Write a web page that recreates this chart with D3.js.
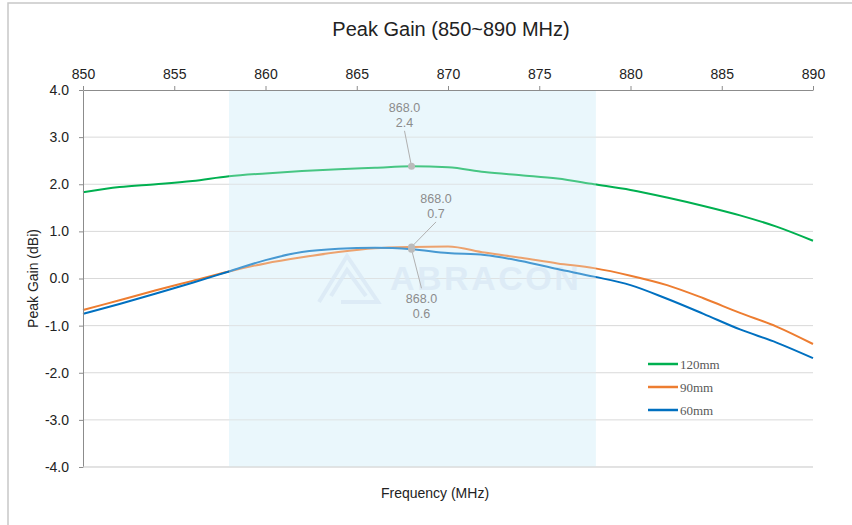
<!DOCTYPE html>
<html>
<head>
<meta charset="utf-8"/>
<script src="https://cdn.jsdelivr.net/npm/d3@7"></script>
<style>
body { margin: 0; background: #fff; }
text { font-family: Arial, "Liberation Sans", sans-serif; }
.grid line { stroke: #d9d9d9; stroke-width: 1; }
.axis path, .axis line { stroke: #8c8c8c; }
.axis text { font-size: 14px; fill: #222; }
.note { font-size: 12.5px; fill: #8c8c8c; }
.legend text { font-family: "Liberation Serif", "Times New Roman", serif; font-size: 13px; fill: #595959; }
</style>
</head>
<body>
<svg id="chart" width="852" height="525"></svg>
<script>
// frequency points (MHz) and peak gain (dBi) per cable length
var freq = [850,852,854,856,858,860,862,864,866,868,870,872,874,876,878,880,882,884,886,888,890];
var gain120 = [1.83,1.94,2.00,2.07,2.17,2.23,2.28,2.32,2.35,2.38,2.36,2.26,2.19,2.12,2.00,1.88,1.72,1.54,1.34,1.10,0.80];
var gain90  = [-0.67,-0.46,-0.25,-0.05,0.15,0.32,0.45,0.56,0.64,0.67,0.68,0.55,0.44,0.32,0.22,0.06,-0.14,-0.42,-0.73,-1.02,-1.39];
var gain60  = [-0.75,-0.54,-0.32,-0.09,0.15,0.39,0.56,0.63,0.65,0.62,0.54,0.50,0.37,0.20,0.04,-0.14,-0.43,-0.75,-1.08,-1.36,-1.69];

var seriesNames = ["120mm", "90mm", "60mm"];
var seriesColors = ["#00b050", "#ed7d31", "#0070c0"];
var band = [858, 878.1];
var xTicks = [850,855,860,865,870,875,880,885,890];
var yTicks = [4,3,2,1,0,-1,-2,-3,-4];
var markFreq = 868;

var svg = d3.select("#chart");
var W = 852, H = 525;
var margin = {left: 83, right: 39, top: 90, bottom: 58};

var x = d3.scaleLinear().domain([850, 890]).range([margin.left, W - margin.right]);
var y = d3.scaleLinear().domain([-4, 4]).range([H - margin.bottom, margin.top]);

// outer frame (top and left only)
svg.append("path")
    .attr("d", "M8," + H + "V3H" + W)
    .attr("fill", "none")
    .attr("stroke", "#c8c8c8")
    .attr("stroke-width", 1.5);

svg.append("text")
    .attr("x", 451).attr("y", 36)
    .attr("text-anchor", "middle")
    .style("font-size", "20px").style("fill", "#222")
    .text("Peak Gain (850~890 MHz)");

// highlighted band
svg.append("rect")
    .attr("x", x(band[0])).attr("y", y(4))
    .attr("width", x(band[1]) - x(band[0]))
    .attr("height", y(-4) - y(4))
    .attr("fill", "#eaf7fd");

svg.append("g").attr("class", "grid")
  .selectAll("line")
  .data(yTicks.slice(1))
  .enter().append("line")
    .attr("x1", x(850)).attr("x2", x(890))
    .attr("y1", function(d) { return y(d); })
    .attr("y2", function(d) { return y(d); });

// watermark
var wm = svg.append("g").attr("opacity", 0.8);
wm.append("path")
    .attr("d", "M319,302L347,256L378,302L341,302M331,296L347,270L366,296")
    .attr("fill", "none").attr("stroke", "#d3e3f2").attr("stroke-width", 4);
wm.append("text")
    .attr("x", 390).attr("y", 290)
    .style("font-size", "34px").style("font-weight", "bold")
    .style("fill", "#d3e3f2").style("letter-spacing", "2.5px")
    .text("ABRACON");

var series = [gain120, gain90, gain60];
var line = d3.line()
    .x(function(d, i) { return x(freq[i]); })
    .y(function(d) { return y(d); })
    .curve(d3.curveMonotoneX);

svg.append("g").selectAll("path")
  .data(series)
  .enter().append("path")
    .attr("fill", "none")
    .attr("stroke", function(d, i) { return seriesColors[i]; })
    .attr("stroke-width", 2)
    .attr("d", line);

// band overlay softens the lines inside it
svg.append("rect")
    .attr("x", x(band[0])).attr("y", y(4))
    .attr("width", x(band[1]) - x(band[0]))
    .attr("height", y(-4) - y(4))
    .attr("fill", "#eaf7fd").attr("opacity", 0.3);

// axes
svg.append("g").attr("class", "axis")
    .attr("transform", "translate(0," + y(4) + ")")
    .call(d3.axisTop(x).tickValues(xTicks).tickSize(4).tickSizeOuter(0).tickFormat(d3.format("d")))
    .call(function(g) { g.selectAll("text").attr("dy", "-0.3em"); });

svg.append("g").attr("class", "axis")
    .attr("transform", "translate(" + x(850) + ",0)")
    .call(d3.axisLeft(y).tickValues(yTicks).tickSize(4).tickSizeOuter(0)
      .tickFormat(function(d) { return d.toFixed(1); }))
    .call(function(g) { g.selectAll("text").attr("dx", "-0.5em"); });

svg.append("line")
    .attr("x1", x(850)).attr("x2", x(890))
    .attr("y1", y(-4)).attr("y2", y(-4))
    .attr("stroke", "#d9d9d9");

svg.append("text")
    .attr("x", 435).attr("y", 498)
    .attr("text-anchor", "middle")
    .style("font-size", "14px").style("fill", "#222")
    .text("Frequency (MHz)");

svg.append("text")
    .attr("transform", "translate(38," + y(0) + ") rotate(-90)")
    .attr("text-anchor", "middle")
    .style("font-size", "14px").style("fill", "#222")
    .text("Peak Gain (dBi)");

// data labels at 868 MHz
var mi = freq.indexOf(markFreq);
var notes = [
  {v: gain120[mi], dx: -7, dy: -54.5},
  {v: gain90[mi],  dx: 24.5, dy: -44},
  {v: gain60[mi],  dx: 10, dy: 54}
];
var ng = svg.append("g");
notes.forEach(function(n) {
  var px = x(markFreq), py = y(n.v);
  var tx = px + n.dx, ty = py + n.dy;
  var above = n.dy < 0;
  ng.append("line")
      .attr("x1", px).attr("y1", py)
      .attr("x2", tx).attr("y2", above ? ty + 19 : ty - 15)
      .attr("stroke", "#b0b0b0");
  ng.append("circle").attr("cx", px).attr("cy", py).attr("r", 3.5).attr("fill", "#bbbbbb");
  ng.append("text").attr("class", "note")
      .attr("x", tx).attr("y", ty)
      .attr("text-anchor", "middle")
      .text(markFreq.toFixed(1));
  ng.append("text").attr("class", "note")
      .attr("x", tx).attr("y", ty + 15)
      .attr("text-anchor", "middle")
      .text(n.v.toFixed(1));
});

// legend
var lg = svg.append("g").attr("class", "legend");
seriesNames.forEach(function(name, i) {
  var ly = 364 + i * 23;
  lg.append("line")
      .attr("x1", 648).attr("x2", 678).attr("y1", ly).attr("y2", ly)
      .attr("stroke", seriesColors[i]).attr("stroke-width", 2.5);
  lg.append("text").attr("x", 680).attr("y", ly + 5).text(name);
});
</script>
</body>
</html>
